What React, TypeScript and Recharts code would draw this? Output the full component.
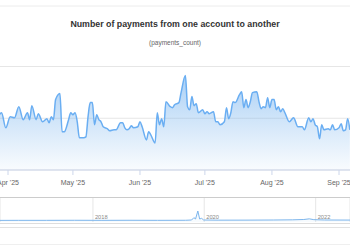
import React from 'react';
import { AreaChart, Area, XAxis, YAxis, CartesianGrid } from 'recharts';

// ---- main series: daily payment counts ----
const dates = [
  '2025-03-28', '2025-03-29', '2025-03-31', '2025-04-02', '2025-04-04', '2025-04-06', '2025-04-08',
  '2025-04-10', '2025-04-11', '2025-04-12', '2025-04-14', '2025-04-15', '2025-04-17', '2025-04-19',
  '2025-04-20', '2025-04-21', '2025-04-22', '2025-04-23', '2025-04-25', '2025-04-26', '2025-04-27',
  '2025-04-29', '2025-04-30', '2025-05-01', '2025-05-02', '2025-05-03', '2025-05-04', '2025-05-06',
  '2025-05-07', '2025-05-08', '2025-05-09', '2025-05-10', '2025-05-11', '2025-05-12', '2025-05-13',
  '2025-05-14', '2025-05-15', '2025-05-17', '2025-05-18', '2025-05-20', '2025-05-21', '2025-05-23',
  '2025-05-24', '2025-05-25', '2025-05-26', '2025-05-27', '2025-05-28', '2025-05-29', '2025-05-31',
  '2025-06-01', '2025-06-02', '2025-06-04', '2025-06-05', '2025-06-06', '2025-06-08', '2025-06-09',
  '2025-06-10', '2025-06-11', '2025-06-12', '2025-06-13', '2025-06-15', '2025-06-16', '2025-06-17',
  '2025-06-19', '2025-06-20', '2025-06-22', '2025-06-23', '2025-06-24', '2025-06-25', '2025-06-26',
  '2025-06-27', '2025-06-28', '2025-06-30', '2025-07-01', '2025-07-02', '2025-07-03', '2025-07-05',
  '2025-07-06', '2025-07-07', '2025-07-08', '2025-07-10', '2025-07-11', '2025-07-12', '2025-07-13',
  '2025-07-14', '2025-07-15', '2025-07-17', '2025-07-18', '2025-07-19', '2025-07-20', '2025-07-21',
  '2025-07-22', '2025-07-23', '2025-07-25', '2025-07-26', '2025-07-27', '2025-07-28', '2025-07-29',
  '2025-07-30', '2025-07-31', '2025-08-01', '2025-08-02', '2025-08-03', '2025-08-04', '2025-08-05',
  '2025-08-06', '2025-08-07', '2025-08-09', '2025-08-11', '2025-08-13', '2025-08-15', '2025-08-16',
  '2025-08-18', '2025-08-19', '2025-08-20', '2025-08-21', '2025-08-22', '2025-08-23', '2025-08-24',
  '2025-08-25', '2025-08-27', '2025-08-28', '2025-08-29', '2025-08-30', '2025-09-01', '2025-09-02',
  '2025-09-03', '2025-09-04', '2025-09-05', '2025-09-06',
];
const counts = [
  534, 553, 408, 515, 505, 612, 486,
  553, 486, 621, 486, 544, 466, 495,
  456, 515, 486, 680, 738, 369, 369,
  486, 553, 534, 553, 466, 311, 311,
  320, 515, 651, 651, 437, 534, 486,
  466, 418, 398, 379, 388, 388, 456,
  456, 408, 388, 398, 427, 408, 418,
  466, 418, 291, 369, 340, 262, 553,
  437, 495, 418, 660, 612, 602, 631,
  651, 748, 913, 612, 583, 709, 621,
  641, 553, 583, 544, 563, 544, 563,
  466, 466, 437, 466, 602, 495, 553,
  660, 651, 728, 757, 602, 680, 602,
  660, 748, 757, 660, 592, 612, 602,
  699, 602, 680, 680, 583, 612, 563,
  592, 553, 466, 505, 418, 418, 388,
  505, 466, 495, 437, 418, 301, 437,
  388, 398, 388, 437, 388, 408, 447,
  379, 388, 495, 388,
];
const monthTicks = ['2025-04-01', '2025-05-01', '2025-06-01', '2025-07-01', '2025-08-01', '2025-09-01'];
const monthNames = ['Jan', 'Feb', 'Mar', 'Apr', 'May', 'Jun', 'Jul', 'Aug', 'Sep', 'Oct', 'Nov', 'Dec'];
const yTicks = [0, 500, 1000];

// ---- navigator series: full history ----
const navDates = [
  '2016-03-01', '2016-09-01', '2017-03-01', '2017-09-01', '2018-03-01', '2018-09-01', '2019-03-01',
  '2019-09-01', '2019-10-10', '2019-10-25', '2019-11-05', '2019-11-20', '2019-12-02', '2019-12-15',
  '2019-12-28', '2020-04-01', '2020-10-01', '2021-04-01', '2021-08-01', '2021-10-15', '2021-11-20',
  '2021-12-20', '2022-03-01', '2022-08-01', '2022-12-01',
];
const navCounts = [
  480, 500, 500, 520, 500, 520, 500,
  520, 600, 1300, 900, 3300, 900, 1100,
  600, 550, 560, 600, 650, 750, 950,
  700, 600, 580, 580,
];
const navYearTicks = ['2018-01-01', '2020-01-01', '2022-01-01'];

const toT = (s: string) => Date.parse(s + 'T00:00:00Z');
const DAY = 86400000;

const mainData = dates.map((d, i) => ({ t: toT(d), v: counts[i] }));
const navData = navDates.map((d, i) => ({ t: toT(d), v: navCounts[i] }));

const apr1 = toT('2025-04-01');
const mainDomain = [apr1 - 3.7 * DAY, apr1 + 158.08 * DAY];

const t2018 = toT('2018-01-01');
const t2020 = toT('2020-01-01');
const t2022 = toT('2022-01-01');
const navDomain = [t2018 - (93 / 111.35) * (t2020 - t2018), t2022 + (34.3 / 111.35) * (t2022 - t2020)];

const FONT = '"Liberation Sans", Arial, Helvetica, sans-serif';

const fmtMonth = (t: number) => {
  const d = new Date(t);
  return `${monthNames[d.getUTCMonth()]} '${String(d.getUTCFullYear()).slice(2)}`;
};

const NavTick = (props: any) => {
  const { x, y, payload } = props;
  return (
    <text x={x + 2} y={y - 3.5} fill="#888" fontSize={5.7} fontFamily={FONT}>
      {new Date(payload.value).getUTCFullYear()}
    </text>
  );
};

export default function App() {
  return (
    <div
      style={{
        position: 'fixed',
        left: 0,
        top: 0,
        width: 350,
        height: 250,
        overflow: 'hidden',
        background: '#fff',
        fontFamily: FONT,
      }}
    >
      <div style={{ position: 'absolute', left: 0, top: 0 }}>
        <AreaChart width={350} height={195} data={mainData} margin={{ top: 66.5, right: 0, left: 0, bottom: 5 }}>
          <defs>
            <linearGradient id="mainFill" x1="0" y1="0" x2="0" y2="1">
              <stop offset="0%" stopColor="#6fb0f0" stopOpacity={1} />
              <stop offset="100%" stopColor="#7cb5ec" stopOpacity={0.08} />
            </linearGradient>
          </defs>
          <CartesianGrid vertical={false} stroke="#e6e6e6" />
          <XAxis
            dataKey="t"
            type="number"
            scale="time"
            domain={mainDomain}
            allowDataOverflow
            ticks={monthTicks.map(toT)}
            interval={0}
            tickFormatter={fmtMonth}
            height={20}
            tickSize={5}
            tickMargin={5}
            stroke="#ccd6eb"
            tick={{ fill: '#666', fontSize: 7, fontFamily: FONT }}
          />
          <YAxis hide domain={[0, 1000]} ticks={yTicks} allowDataOverflow />
          <Area
            type="monotone"
            dataKey="v"
            stroke="#6aaef2"
            strokeWidth={1.5}
            fill="url(#mainFill)"
            isAnimationActive={false}
            dot={false}
            activeDot={false}
          />
        </AreaChart>
      </div>

      <div style={{ position: 'absolute', left: 0, top: 198 }}>
        <AreaChart width={350} height={25} data={navData} margin={{ top: 0, right: 0, left: 0, bottom: 0 }}>
          <CartesianGrid horizontal={false} stroke="#e6e6e6" />
          <XAxis
            dataKey="t"
            type="number"
            scale="time"
            domain={navDomain}
            allowDataOverflow
            ticks={navYearTicks.map(toT)}
            interval={0}
            height={1}
            tickSize={0}
            tickMargin={0}
            axisLine={false}
            tickLine={false}
            tick={<NavTick />}
          />
          <YAxis hide domain={[0, 7200]} allowDataOverflow />
          <Area
            type="linear"
            dataKey="v"
            stroke="#7cb5ec"
            strokeWidth={1}
            fill="#7cb5ec"
            fillOpacity={0.06}
            isAnimationActive={false}
            dot={false}
            activeDot={false}
          />
        </AreaChart>
      </div>

      <svg width={350} height={250} style={{ position: 'absolute', left: 0, top: 0, pointerEvents: 'none' }}>
        <line x1={0} x2={350} y1={6} y2={6} stroke="#ececec" strokeWidth={1} />
        <text x={175} y={27} textAnchor="middle" fill="#333" fontSize={8.8} fontWeight="bold" fontFamily={FONT}>
          Number of payments from one account to another
        </text>
        <text x={175} y={45} textAnchor="middle" fill="#666" fontSize={6.5} fontFamily={FONT}>
          (payments_count)
        </text>
        <line x1={0} x2={350} y1={197.5} y2={197.5} stroke="#cccccc" strokeWidth={1} />
        <line x1={0} x2={350} y1={223.5} y2={223.5} stroke="#dddddd" strokeWidth={1} />
        <line x1={0} x2={350} y1={227.5} y2={227.5} stroke="#e2e2e2" strokeWidth={1} />
        <line x1={0} x2={350} y1={244.5} y2={244.5} stroke="#efefef" strokeWidth={1} />
      </svg>
    </div>
  );
}
